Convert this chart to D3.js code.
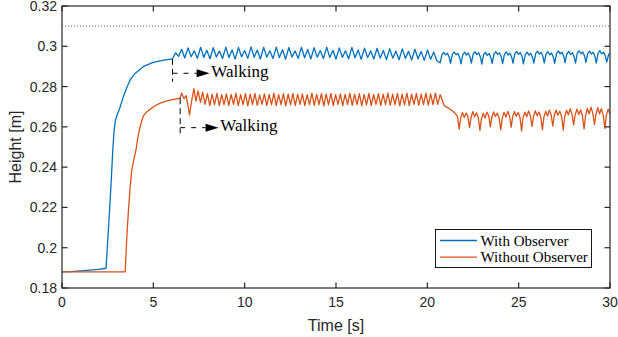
<!DOCTYPE html>
<html><head><meta charset="utf-8">
<script src="https://cdn.jsdelivr.net/npm/d3@7"></script>
<style>body{margin:0;background:#fff}svg{display:block}</style>
</head><body><svg id="c" width="618" height="337"></svg>
<script>
// ---------------- data (time [s], height [m]) ----------------
const xTicks = [0,5,10,15,20,25,30];
const yTicks = [0.18,0.20,0.22,0.24,0.26,0.28,0.30,0.32];
const yTickLabels = ["0.18","0.2","0.22","0.24","0.26","0.28","0.3","0.32"];
const referenceHeight = 0.31;
const seriesNames = ["With Observer","Without Observer"];
const seriesColors = ["#0072BD","#D95319"];

const withObserverRise = [[0,0.1880],[0.5,0.1881],[1.0,0.1885],[1.5,0.1889],[2.0,0.1892],[2.41,0.1898],
[2.5,0.2030],[2.6,0.2180],[2.7,0.2340],[2.78,0.2485],[2.85,0.2580],[2.92,0.2630],[3.0,0.2655],[3.15,0.2690],
[3.36,0.2750],[3.55,0.2795],[3.73,0.2833],[4.0,0.2865],[4.46,0.2900],[5.0,0.2920],[5.5,0.2930],[6.05,0.2938]];

const withObserverWalk1 = [[6.22,.2968],[6.38,.2950],[6.55,.2985],[6.72,.2942],[6.90,.2992],[7.07,.2948],[7.24,.2978],[7.41,.2940],
[7.59,.2995],[7.76,.2945],[7.93,.2980],[8.10,.2938],[8.28,.2993],[8.45,.2947],[8.62,.2976],[8.79,.2940],[8.97,.2996],[9.14,.2944],
[9.31,.2982],[9.48,.2936],[9.66,.2994],[9.83,.2948],[10.00,.2979],[10.17,.2940],[10.35,.2997],[10.52,.2945],[10.69,.2981],[10.86,.2937],
[11.04,.2995],[11.21,.2946],[11.38,.2978],[11.55,.2939],[11.73,.2996],[11.90,.2944],[12.07,.2983],[12.24,.2936],[12.42,.2994],[12.59,.2947],
[12.76,.2977],[12.93,.2940],[13.11,.2995],[13.28,.2943],[13.45,.2984],[13.62,.2937],[13.80,.2993],[13.97,.2946],[14.14,.2979],[14.31,.2939],
[14.49,.2996],[14.66,.2944],[14.83,.2980],[15.00,.2936],[15.18,.2992],[15.35,.2945],[15.52,.2978],[15.69,.2938],[15.87,.2994],[16.04,.2943],
[16.21,.2982],[16.38,.2935],[16.56,.2991],[16.73,.2944],[16.90,.2977],[17.07,.2937],[17.25,.2990],[17.42,.2942],[17.59,.2979],[17.76,.2934],
[17.94,.2988],[18.11,.2941],[18.28,.2976],[18.45,.2933],[18.63,.2987],[18.80,.2940],[18.97,.2975],[19.14,.2932],[19.32,.2985],[19.49,.2938],
[19.66,.2974],[19.83,.2930],[20.01,.2982],[20.18,.2936],[20.35,.2972],[20.52,.2928]];

const withObserverWalk2 = [[20.70,.2918],[20.80,.2958],[20.90,.2970],[21.00,.2957],[21.10,.2966],[21.20,.2946],
[21.27,.2915],[21.37,.2960],[21.47,.2972],[21.57,.2958],[21.67,.2965],[21.77,.2944],[21.84,.2913],[21.94,.2959],[22.04,.2971],[22.14,.2956],
[22.24,.2967],[22.34,.2947],[22.41,.2916],[22.51,.2961],[22.61,.2973],[22.71,.2959],[22.81,.2968],[22.91,.2946],[22.98,.2912],[23.08,.2958],
[23.18,.2970],[23.28,.2955],[23.38,.2964],[23.48,.2943],[23.55,.2915],[23.65,.2962],[23.75,.2974],[23.85,.2960],[23.95,.2967],[24.05,.2947],
[24.12,.2914],[24.22,.2960],[24.32,.2972],[24.42,.2957],[24.52,.2966],[24.62,.2945],[24.69,.2917],[24.79,.2962],[24.89,.2975],[24.99,.2960],
[25.09,.2969],[25.19,.2948],[25.26,.2913],[25.36,.2959],[25.46,.2971],[25.56,.2956],[25.66,.2965],[25.76,.2944],[25.83,.2916],[25.93,.2963],
[26.03,.2976],[26.13,.2961],[26.23,.2970],[26.33,.2949],[26.40,.2918],[26.50,.2962],[26.60,.2974],[26.70,.2958],[26.80,.2967],[26.90,.2946],
[26.97,.2915],[27.07,.2964],[27.17,.2977],[27.27,.2962],[27.37,.2971],[27.47,.2950],[27.54,.2919],[27.64,.2963],[27.74,.2975],[27.84,.2959],
[27.94,.2968],[28.04,.2947],[28.11,.2916],[28.21,.2965],[28.31,.2978],[28.41,.2963],[28.51,.2972],[28.61,.2951],[28.68,.2920],[28.78,.2964],
[28.88,.2976],[28.98,.2961],[29.08,.2970],[29.18,.2949],[29.25,.2917],[29.35,.2966],[29.45,.2978],[29.55,.2962],[29.65,.2971],[29.75,.2950],
[29.82,.2921],[29.92,.2958],[30.00,.2966]];

const withoutObserverRise = [[0,0.1880],[3.46,0.1880],[3.50,0.1960],[3.56,0.2070],[3.64,0.2188],[3.73,0.2300],[3.82,0.2386],
[3.95,0.2445],[4.06,0.2490],[4.15,0.2545],[4.25,0.2590],[4.35,0.2625],[4.46,0.2655],[4.62,0.2672],[4.83,0.2688],[5.1,0.2705],
[5.38,0.2718],[5.65,0.2727],[5.92,0.2733],[6.2,0.2738],[6.47,0.2742]];

const withoutObserverWalk1 = [[6.55,.2768],[6.68,.2740],[6.80,.2755],[6.98,.2659],[7.10,.2730],[7.22,.2790],[7.33,.2728],[7.45,.2778],
[7.58,.2722],[7.70,.2772],[7.83,.2712],[7.96,.2765],[8.09,.2706],[8.22,.2762],[8.35,.2710],[8.48,.2766],[8.61,.2705],[8.74,.2760],
[8.87,.2711],[9.00,.2764],[9.13,.2707],[9.26,.2761],[9.39,.2712],[9.52,.2767],[9.65,.2706],[9.78,.2760],[9.91,.2710],[10.04,.2765],
[10.17,.2704],[10.30,.2762],[10.43,.2711],[10.56,.2766],[10.69,.2707],[10.82,.2759],[10.95,.2712],[11.08,.2764],[11.21,.2705],[11.34,.2761],
[11.47,.2710],[11.60,.2767],[11.73,.2706],[11.86,.2760],[11.99,.2711],[12.12,.2765],[12.25,.2704],[12.38,.2762],[12.51,.2709],[12.64,.2766],
[12.77,.2706],[12.90,.2761],[13.03,.2712],[13.16,.2764],[13.29,.2705],[13.42,.2760],[13.55,.2710],[13.68,.2767],[13.81,.2707],[13.94,.2761],
[14.07,.2711],[14.20,.2765],[14.33,.2704],[14.46,.2762],[14.59,.2709],[14.72,.2766],[14.85,.2706],[14.98,.2760],[15.11,.2712],[15.24,.2764],
[15.37,.2705],[15.50,.2761],[15.63,.2710],[15.76,.2767],[15.89,.2707],[16.02,.2762],[16.15,.2711],[16.28,.2765],[16.41,.2704],[16.54,.2761],
[16.67,.2709],[16.80,.2766],[16.93,.2706],[17.06,.2760],[17.19,.2712],[17.32,.2765],[17.45,.2705],[17.58,.2762],[17.71,.2710],[17.84,.2768],
[17.97,.2707],[18.10,.2762],[18.23,.2711],[18.36,.2766],[18.49,.2704],[18.62,.2763],[18.75,.2709],[18.88,.2767],[19.01,.2706],[19.14,.2762],
[19.27,.2712],[19.40,.2766],[19.53,.2707],[19.66,.2763],[19.79,.2710],[19.92,.2768],[20.05,.2708],[20.18,.2764],[20.31,.2711],[20.44,.2767],
[20.57,.2712],[20.70,.2760]];

const withoutObserverDrop = [[20.80,.2738],[20.92,.2706],[21.05,.2698],[21.18,.2692],[21.30,.2684],[21.42,.2676],[21.55,.2664],[21.65,.2652]];

const withoutObserverWalk2 = [[21.74,.2588],[21.82,.2642],[21.92,.2671],[22.02,.2646],[22.12,.2668],[22.22,.2652],
[22.31,.2596],[22.39,.2645],[22.49,.2676],[22.59,.2650],[22.69,.2670],[22.79,.2647],[22.88,.2582],[22.96,.2640],[23.06,.2668],[23.16,.2644],
[23.26,.2673],[23.36,.2655],[23.45,.2600],[23.53,.2648],[23.63,.2674],[23.73,.2652],[23.83,.2669],[23.93,.2645],[24.02,.2585],[24.10,.2643],
[24.20,.2672],[24.30,.2649],[24.40,.2677],[24.50,.2654],[24.59,.2598],[24.67,.2650],[24.77,.2676],[24.87,.2653],[24.97,.2671],[25.07,.2648],
[25.16,.2580],[25.24,.2645],[25.34,.2673],[25.44,.2650],[25.54,.2679],[25.64,.2656],[25.73,.2602],[25.81,.2652],[25.91,.2680],[26.01,.2655],
[26.11,.2674],[26.21,.2650],[26.30,.2586],[26.38,.2648],[26.48,.2677],[26.58,.2654],[26.68,.2683],[26.78,.2659],[26.87,.2604],[26.95,.2655],
[27.05,.2684],[27.15,.2658],[27.25,.2678],[27.35,.2652],[27.44,.2584],[27.52,.2650],[27.62,.2682],[27.72,.2660],[27.82,.2690],[27.92,.2662],
[28.01,.2610],[28.09,.2658],[28.19,.2688],[28.29,.2661],[28.39,.2684],[28.49,.2655],[28.58,.2590],[28.66,.2654],[28.76,.2692],[28.86,.2664],
[28.96,.2698],[29.06,.2666],[29.15,.2612],[29.23,.2660],[29.33,.2695],[29.43,.2665],[29.53,.2690],[29.63,.2658],[29.72,.2592],[29.80,.2658],
[29.90,.2688],[30.00,.2662]];

// walking annotations: [start time, curve height, bottom height, arrow height, arrow tip time, label time, label baseline height]
const walkMarks = [[6.05,0.2938,0.2824,0.2866,8.08,8.17,0.2849],[6.47,0.2742,0.2568,0.2596,8.57,8.67,0.2580]];
const walkLabel = "Walking";

// ---------------- drawing ----------------
const svg = d3.select("#c");
const L=62,R=610,T=6,B=288;
const x = d3.scaleLinear().domain([0,30]).range([L,R]);
const y = d3.scaleLinear().domain([0.18,0.32]).range([B,T]);
const axisColor = "#262626";
const sans = "'Liberation Sans', Arial, Helvetica, sans-serif";
const serif = "'Liberation Serif', 'Times New Roman', serif";

const series = [
  withObserverRise.concat(withObserverWalk1, withObserverWalk2),
  withoutObserverRise.concat(withoutObserverWalk1, withoutObserverDrop, withoutObserverWalk2)
];

// reference dotted line
svg.append("line").attr("x1",x(0)).attr("x2",x(30)).attr("y1",y(referenceHeight)).attr("y2",y(referenceHeight))
  .attr("stroke","#444").attr("stroke-width",0.8).attr("stroke-dasharray","1,2");

const line = d3.line().x(d=>x(d[0])).y(d=>y(d[1]));
svg.append("clipPath").attr("id","pc").append("rect").attr("x",L).attr("y",T).attr("width",R-L).attr("height",B-T);
series.forEach((s,i)=>{
  svg.append("path").datum(s).attr("d",line).attr("fill","none").attr("stroke",seriesColors[i])
    .attr("stroke-width",1.3).attr("stroke-linejoin","round").attr("clip-path","url(#pc)");
});

// walking annotations
walkMarks.forEach(m=>{
  const [t0,h0,hb,ha,tt,tl,hl]=m;
  const g = svg.append("g").attr("stroke","#000").attr("stroke-width",1).attr("fill","none");
  g.append("line").attr("x1",x(t0)).attr("x2",x(t0)).attr("y1",y(h0)).attr("y2",y(hb)).attr("stroke-dasharray","6,4");
  const tipX = x(tt), baseX = tipX-13, ay = y(ha);
  g.append("line").attr("x1",x(t0)).attr("x2",baseX).attr("y1",ay).attr("y2",ay).attr("stroke-dasharray","5,6");
  svg.append("path").attr("d",`M${baseX},${ay-4}L${tipX},${ay}L${baseX},${ay+4}Z`).attr("fill","#000");
  svg.append("text").attr("x",x(tl)).attr("y",y(hl)).text(walkLabel)
    .attr("font-family",serif).attr("font-size",17).attr("fill","#000");
});

// axes box
const ax = svg.append("g").attr("stroke",axisColor).attr("stroke-width",1.2).attr("fill","none");
ax.append("rect").attr("x",L).attr("y",T).attr("width",R-L).attr("height",B-T);
const tl = 5.5;
xTicks.forEach(t=>{
  ax.append("line").attr("x1",x(t)).attr("x2",x(t)).attr("y1",B).attr("y2",B-tl);
  ax.append("line").attr("x1",x(t)).attr("x2",x(t)).attr("y1",T).attr("y2",T+tl);
});
yTicks.forEach(v=>{
  ax.append("line").attr("x1",L).attr("x2",L+tl).attr("y1",y(v)).attr("y2",y(v));
  ax.append("line").attr("x1",R).attr("x2",R-tl).attr("y1",y(v)).attr("y2",y(v));
});
// tick labels
svg.append("g").selectAll("text").data(xTicks).join("text")
  .attr("x",d=>x(d)).attr("y",B+19).attr("text-anchor","middle").text(d=>d)
  .attr("font-family",sans).attr("font-size",14).attr("fill",axisColor);
svg.append("g").selectAll("text").data(yTicks).join("text")
  .attr("x",L-5).attr("y",d=>y(d)+5).attr("text-anchor","end").text((d,i)=>yTickLabels[i])
  .attr("font-family",sans).attr("font-size",14).attr("fill",axisColor);
// axis labels
svg.append("text").attr("x",(L+R)/2).attr("y",331).attr("text-anchor","middle").text("Time [s]")
  .attr("font-family",sans).attr("font-size",16).attr("fill",axisColor);
svg.append("text").attr("transform",`translate(21,${(T+B)/2}) rotate(-90)`).attr("text-anchor","middle").text("Height [m]")
  .attr("font-family",sans).attr("font-size",16).attr("fill",axisColor);

// legend
const lg = svg.append("g");
lg.append("rect").attr("x",435.5).attr("y",229.5).attr("width",156).attr("height",38).attr("fill","#fff").attr("stroke","#000").attr("stroke-width",0.9);
seriesNames.forEach((n,i)=>{
  const yy = 240.5 + i*16.7;
  lg.append("line").attr("x1",440).attr("x2",477).attr("y1",yy).attr("y2",yy).attr("stroke",seriesColors[i]).attr("stroke-width",1.3);
  lg.append("text").attr("x",480.5).attr("y",yy+5).text(n).attr("font-family",serif).attr("font-size",15).attr("fill","#000");
});
</script></body></html>
